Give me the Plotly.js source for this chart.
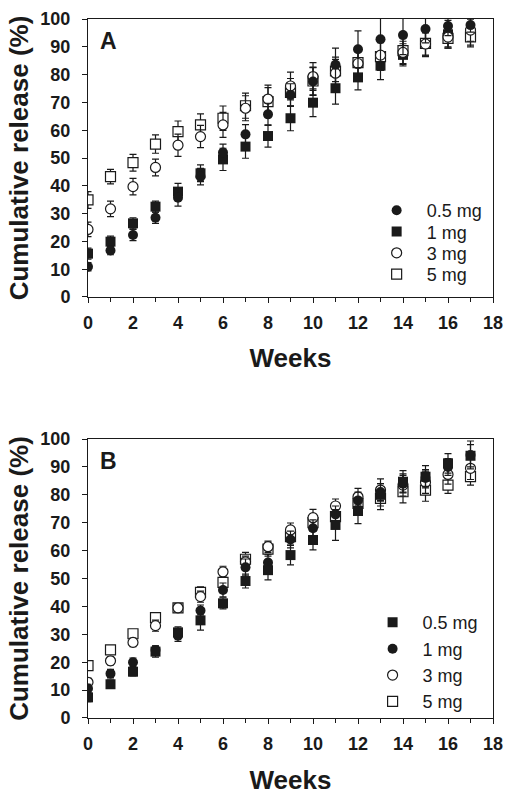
<!DOCTYPE html>
<html>
<head>
<meta charset="utf-8">
<script src="https://cdn.plot.ly/plotly-3.0.1.min.js"></script>
<style>html,body{margin:0;padding:0;background:#fff;}#chart{width:512px;height:797px;}</style>
</head>
<body>
<div id="chart"></div>
<script>
// ---- data ----
var weeks = [0,1,2,3,4,5,6,7,8,9,10,11,12,13,14,15,16,17];
var xTickVals = [0,2,4,6,8,10,12,14,16,18];
var yTickVals = [0,10,20,30,40,50,60,70,80,90,100];

// Panel A
var aLabels = ["0.5 mg","1 mg","3 mg","5 mg"];
var a05 = [10.9,16.7,22.3,28.5,35.7,43.3,52.0,58.5,65.7,72.7,77.5,83.5,89.1,92.7,94.2,96.4,97.5,97.8];
var a05Err = [1.5,1.5,2,2,3,3,3,3.5,4,4,5,6,6.6,8,7,5,3.5,2.5];
var a1 = [15.6,19.9,26.5,32.5,37.9,44.5,49.5,54.1,57.9,64.3,69.9,75.1,79.0,83.2,87.1,91.0,94.5,95.0];
var a1Err = [2,2,2,2,3,3,4,4.2,4,4.5,5,5.7,4.5,5,4,4.5,5,5];
var a3 = [24.3,31.7,39.7,46.6,54.6,57.7,61.9,67.9,71.2,75.9,79.3,80.5,84.0,87.0,88.0,91.0,93.5,96.0];
var a3Err = [2.6,2.8,3,3,4,4,4.5,4.5,5,5,5,5,5,5,4,4,3.5,4];
var a5 = [34.9,43.3,48.3,55.0,59.5,61.9,64.3,68.8,70.3,73.6,77.7,81.3,84.3,86.5,88.6,91.2,93.0,93.6];
var a5Err = [3,2.6,3,3.3,3.8,4,4.4,4.5,5,5,5,5,5,5,5,4.5,3.5,3];

// Panel B
var bLabels = ["0.5 mg","1 mg","3 mg","5 mg"];
var b05 = [7.4,12.1,16.6,23.8,30.7,35.0,41.1,49.1,53.0,58.4,63.8,69.2,74.2,80.0,84.7,86.5,91.3,94.0];
var b05Err = [1.5,1.5,1.5,2,2,3.5,2,2.5,3.5,3.5,3.5,5.5,4.5,4,4,4,3.5,4];
var b1 = [10.6,15.9,20.0,24.4,29.5,38.5,45.9,54.0,55.7,64.0,68.0,73.0,78.0,81.0,84.0,86.0,90.0,94.3];
var b1Err = [1.5,1.5,1.5,1.5,2,2,2.5,3,3,3,3,3,3,3,3,3,3,5];
var b3 = [12.8,20.5,27.1,33.1,39.5,43.5,52.4,56.0,61.4,67.4,71.8,76.0,79.3,81.7,83.5,84.5,87.3,89.5];
var b3Err = [1.5,1.5,1.5,2,1.5,2,2,2,2,2.5,3,2.5,3,4,4,4,3.5,4];
var b5 = [18.8,24.4,30.2,36.0,39.5,45.0,48.6,56.9,60.5,65.0,70.0,72.2,76.9,78.7,81.1,81.7,83.5,86.5];
var b5Err = [1.5,1.5,1.5,1.5,1.5,2,2,2.5,2.5,3,3,3,3,4,4,4,3,3];

// ---- styling ----
var INK = '#1a1a1a';
var FONT = 'Liberation Sans, Arial, Helvetica, sans-serif';

function tr(y, err, name, symbol, xa, ya, legend, rank) {
  var filled = symbol.indexOf('open') < 0;
  return {
    type: 'scatter', mode: 'markers', x: weeks, y: y, name: name,
    xaxis: xa, yaxis: ya, legend: legend, legendrank: rank,
    marker: {
      symbol: filled ? symbol : symbol.replace('-open',''),
      size: 10,
      color: filled ? INK : '#ffffff',
      line: {color: INK, width: filled ? 0 : 1.2}
    },
    error_y: {type: 'data', array: err, visible: true, color: INK, thickness: 1.2, width: 3.5},
    cliponaxis: true
  };
}

var data = [
  tr(a1, a1Err, aLabels[1], 'square', 'x', 'y', 'legend', 2),
  tr(a5, a5Err, aLabels[3], 'square-open', 'x', 'y', 'legend', 4),
  tr(a3, a3Err, aLabels[2], 'circle-open', 'x', 'y', 'legend', 3),
  tr(a05, a05Err, aLabels[0], 'circle', 'x', 'y', 'legend', 1),
  tr(b5, b5Err, bLabels[3], 'square-open', 'x2', 'y2', 'legend2', 4),
  tr(b3, b3Err, bLabels[2], 'circle-open', 'x2', 'y2', 'legend2', 3),
  tr(b1, b1Err, bLabels[1], 'circle', 'x2', 'y2', 'legend2', 2),
  tr(b05, b05Err, bLabels[0], 'square', 'x2', 'y2', 'legend2', 1)
];

function xaxis(anchor, standoff) {
  return {
    anchor: anchor, range: [0, 18], tickvals: xTickVals, ticks: 'outside', ticklen: 5,
    tickwidth: 1, tickcolor: INK, showline: true, linecolor: INK, linewidth: 1, mirror: true,
    showgrid: false, zeroline: false,
    minor: {dtick: 1, tick0: 0, ticks: 'outside', ticklen: 4, tickcolor: INK, showgrid: false},
    tickfont: {family: FONT, size: 18, weight: 'bold', color: INK},
    ticklabelstandoff: 4,
    title: {text: 'Weeks', font: {family: FONT, size: 26, weight: 'bold', color: INK}, standoff: standoff},
    automargin: false
  };
}
function yaxis(anchor, domain) {
  return {
    anchor: anchor, domain: domain, range: [0, 100], tickvals: yTickVals, ticks: 'outside', ticklen: 5,
    tickwidth: 1, tickcolor: INK, showline: true, linecolor: INK, linewidth: 1, mirror: true,
    showgrid: false, zeroline: false,
    tickfont: {family: FONT, size: 18, weight: 'bold', color: INK},
    ticklabelstandoff: 8,
    title: {text: 'Cumulative release (%)', font: {family: FONT, size: 26, weight: 'bold', color: INK}, standoff: 4},
    automargin: false
  };
}

var legendBase = {
  bgcolor: 'rgba(0,0,0,0)', borderwidth: 0,
  font: {family: FONT, size: 18, color: INK},
  tracegroupgap: 0, itemwidth: 50, xanchor: 'left', yanchor: 'top'
};

var layout = {
  width: 512, height: 797,
  margin: {l: 88, r: 19, t: 19, b: 79},
  paper_bgcolor: '#ffffff', plot_bgcolor: '#ffffff',
  showlegend: true,
  xaxis: xaxis('y', 17),
  yaxis: yaxis('x', [0.6023, 1]),
  xaxis2: xaxis('y2', 18),
  yaxis2: yaxis('x2', [0, 0.3991]),
  legend: Object.assign({}, legendBase, {x: 0.688, y: 0.7525, xref: 'paper', yref: 'paper'}),
  legend2: Object.assign({}, legendBase, {x: 0.678, y: 0.163, xref: 'paper', yref: 'paper'}),
  annotations: [
    {text: 'A', xref: 'x domain', yref: 'y domain', x: 0.05, y: 0.92, xanchor: 'center', yanchor: 'middle',
     showarrow: false, font: {family: FONT, size: 23, weight: 'bold', color: INK}},
    {text: 'B', xref: 'x2 domain', yref: 'y2 domain', x: 0.05, y: 0.92, xanchor: 'center', yanchor: 'middle',
     showarrow: false, font: {family: FONT, size: 23, weight: 'bold', color: INK}}
  ]
};

Plotly.newPlot('chart', data, layout, {staticPlot: true, displayModeBar: false}).then(function (gd) {
  // tighten the legend row spacing to match the reference
  var ROW = 21.3;
  gd.querySelectorAll('g.legend').forEach(function (lg) {
    var items = lg.querySelectorAll('g.traces');
    var y0 = null;
    items.forEach(function (it, i) {
      var m = /translate\(\s*([-\d.]+)[ ,]+([-\d.]+)\s*\)/.exec(it.getAttribute('transform') || '');
      if (!m) return;
      if (y0 === null) y0 = parseFloat(m[2]);
      it.setAttribute('transform', 'translate(' + m[1] + ',' + (y0 + i * ROW) + ')');
    });
  });
});
</script>
</body>
</html>
